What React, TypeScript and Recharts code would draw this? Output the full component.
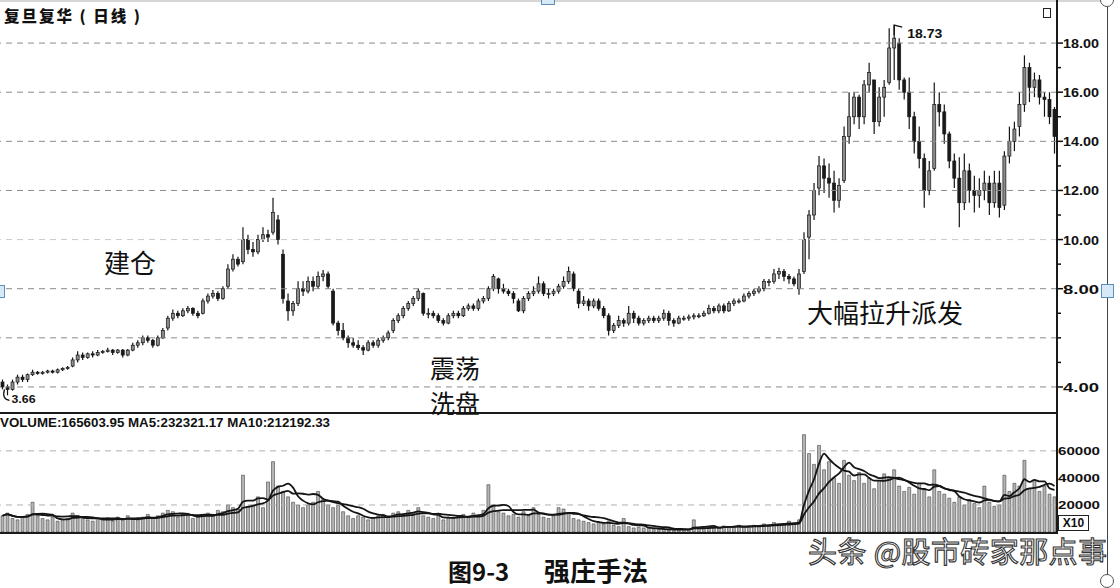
import React from 'react';
import { ComposedChart, Bar, Line, XAxis, YAxis, ReferenceLine, ReferenceDot } from 'recharts';

// ---- daily candles ----
const openP = [
  4.2,4.0,3.9,4.2,4.4,4.3,4.5,4.6,4.55,4.6,
  4.65,4.6,4.7,4.75,4.85,5.1,5.3,5.2,5.35,5.3,
  5.4,5.45,5.5,5.4,5.5,5.3,5.5,5.7,5.8,6.0,
  5.9,5.7,6.0,6.4,6.8,7.0,6.9,7.1,7.2,7.0,
  7.0,7.5,7.7,7.8,7.6,8.1,8.8,9.2,9.1,10.0,
  9.6,9.5,10.0,10.2,10.3,10.8,9.4,7.5,7.1,7.4,
  8.0,7.9,8.3,8.1,8.5,8.6,7.9,6.6,6.3,6.0,
  5.8,5.7,5.6,5.5,5.8,5.7,5.9,6.0,6.3,6.7,
  6.9,7.2,7.4,7.6,7.8,7.0,7.0,6.9,6.7,6.6,
  6.9,7.0,6.9,7.2,7.3,7.2,7.5,7.6,8.0,8.4,
  8.0,7.9,7.8,7.5,7.1,7.6,7.8,7.9,8.2,7.8,
  7.8,7.9,8.1,8.3,8.6,7.9,7.4,7.5,7.3,7.5,
  7.2,6.9,6.3,6.5,6.7,6.6,7.0,6.8,6.6,6.7,
  6.8,6.7,6.8,7.0,6.7,6.6,6.8,6.8,6.85,6.9,
  6.9,7.0,7.2,7.1,7.3,7.1,7.4,7.5,7.5,7.7,
  7.8,7.9,8.0,8.3,8.3,8.6,8.7,8.5,8.4,8.0,
  8.7,10.1,11.0,12.1,13.0,12.5,12.3,11.6,12.4,14.2,
  15.0,15.8,15.0,16.3,16.5,14.8,15.8,16.4,17.8,18.0,
  16.5,16.0,15.0,14.0,13.3,12.0,12.9,15.5,15.2,14.3,
  13.2,12.5,11.5,12.8,12.0,11.8,12.0,12.3,11.5,12.3,
  11.4,13.4,14.0,14.6,15.5,17.0,16.2,16.5,15.8,15.7,
  15.3,
];
const highP = [
  4.3,4.1,4.3,4.5,4.5,4.55,4.7,4.65,4.65,4.7,
  4.7,4.75,4.8,4.85,5.2,5.45,5.4,5.4,5.45,5.5,
  5.5,5.6,5.55,5.55,5.55,5.55,5.8,5.9,6.1,6.1,
  5.95,6.1,6.4,6.9,7.15,7.1,7.2,7.3,7.25,7.1,
  7.6,7.8,7.95,7.9,8.1,9.0,9.4,9.3,10.5,10.2,
  9.9,10.2,10.5,10.4,11.7,11.0,9.6,7.8,7.5,8.3,
  8.3,8.5,8.5,8.7,8.76,8.7,8.0,6.7,6.6,6.1,
  6.0,5.9,5.7,5.9,5.9,6.0,6.1,6.3,6.8,7.0,
  7.3,7.5,7.7,8.0,7.85,7.2,7.1,7.0,6.8,7.0,
  7.1,7.1,7.3,7.4,7.4,7.6,7.7,8.1,8.6,8.45,
  8.2,8.0,7.9,7.6,7.7,7.9,8.1,8.5,8.3,8.0,
  8.0,8.2,8.5,8.9,8.7,8.0,7.7,7.6,7.6,7.6,
  7.3,7.0,6.6,6.9,6.8,7.3,7.1,6.9,6.8,6.9,
  6.9,6.9,7.15,7.1,6.8,6.9,6.9,6.95,7.0,7.0,
  7.1,7.35,7.3,7.4,7.4,7.5,7.6,7.6,7.8,7.9,
  8.0,8.1,8.4,8.4,8.8,8.85,8.8,8.6,8.5,8.8,
  10.3,11.2,12.3,13.4,13.3,13.1,12.8,12.5,14.6,16.0,
  16.0,15.9,16.5,17.2,16.5,16.2,16.5,18.6,18.73,18.2,
  16.6,16.6,15.2,14.6,13.5,13.2,16.4,16.0,15.5,14.4,
  13.5,13.35,13.5,13.1,12.6,12.5,12.8,12.6,12.8,12.8,
  13.6,14.6,14.8,16.0,17.5,17.2,16.8,16.7,16.0,16.0,
  15.4,
];
const lowP = [
  3.9,3.66,3.85,4.1,4.2,4.2,4.45,4.5,4.5,4.55,
  4.55,4.55,4.65,4.7,4.8,5.0,5.1,5.15,5.2,5.25,
  5.35,5.4,5.3,5.35,5.2,5.25,5.45,5.6,5.7,5.8,
  5.6,5.65,5.95,6.3,6.7,6.8,6.85,7.0,6.9,6.8,
  6.95,7.4,7.6,7.5,7.55,8.0,8.7,8.9,9.0,9.4,
  9.3,9.4,9.9,9.9,10.2,9.8,7.4,6.7,6.9,7.3,
  7.7,7.8,7.9,8.0,8.3,8.0,6.5,6.1,5.9,5.6,
  5.6,5.5,5.3,5.45,5.6,5.6,5.8,5.9,6.2,6.6,
  6.8,7.1,7.3,7.5,6.9,6.8,6.8,6.6,6.5,6.55,
  6.8,6.8,6.85,7.1,7.1,7.1,7.4,7.5,7.9,7.8,
  7.8,7.7,7.4,7.05,7.0,7.5,7.7,7.8,7.7,7.6,
  7.7,7.8,8.0,8.2,7.9,7.2,7.3,7.1,7.2,7.1,
  6.8,6.1,6.2,6.4,6.45,6.5,6.6,6.5,6.5,6.6,
  6.6,6.6,6.7,6.5,6.45,6.55,6.7,6.7,6.75,6.8,
  6.85,6.95,7.0,7.0,7.0,7.05,7.3,7.4,7.45,7.6,
  7.7,7.8,7.9,8.1,8.2,8.4,8.3,8.2,8.1,7.75,
  8.6,9.2,10.8,11.8,11.9,11.7,11.1,11.3,12.3,13.9,
  14.7,14.5,14.7,16.0,14.3,14.6,15.0,16.3,16.5,16.1,
  15.7,14.5,13.5,12.9,11.3,11.8,12.8,14.6,13.9,12.9,
  12.1,10.5,11.2,11.5,11.1,11.3,11.6,11.0,11.3,10.9,
  11.2,13.1,13.6,14.2,15.2,15.6,15.8,15.5,15.0,14.7,
  13.5,
];
const closeP = [
  4.0,3.9,4.2,4.4,4.3,4.5,4.6,4.55,4.6,4.65,
  4.6,4.7,4.75,4.8,5.1,5.3,5.2,5.35,5.3,5.4,
  5.45,5.5,5.4,5.5,5.3,5.5,5.7,5.8,6.0,5.9,
  5.7,6.0,6.3,6.8,7.0,6.9,7.1,7.2,7.0,6.9,
  7.5,7.7,7.8,7.6,8.0,8.8,9.2,9.0,10.0,9.6,
  9.5,10.0,10.2,10.1,11.1,10.0,7.6,7.1,7.4,8.0,
  7.9,8.3,8.1,8.5,8.6,8.1,6.6,6.3,6.0,5.8,
  5.7,5.6,5.5,5.8,5.7,5.9,6.0,6.2,6.7,6.9,
  7.2,7.4,7.6,7.9,7.0,7.0,6.9,6.7,6.6,6.9,
  7.0,6.9,7.2,7.3,7.2,7.5,7.6,8.0,8.5,8.0,
  7.9,7.8,7.6,7.1,7.6,7.8,7.9,8.2,7.8,7.8,
  7.9,8.1,8.3,8.7,8.0,7.4,7.5,7.3,7.5,7.2,
  6.9,6.3,6.5,6.7,6.6,7.0,6.8,6.6,6.7,6.8,
  6.7,6.8,7.0,6.7,6.6,6.8,6.8,6.85,6.9,6.9,
  7.0,7.2,7.1,7.3,7.1,7.4,7.5,7.5,7.7,7.8,
  7.9,8.0,8.3,8.3,8.6,8.7,8.5,8.4,8.2,8.6,
  10.0,11.0,12.0,13.0,12.5,12.3,11.6,12.2,14.2,15.0,
  15.8,15.0,16.3,16.8,14.8,15.8,16.2,17.8,18.2,16.5,
  16.0,15.0,14.0,13.3,12.0,12.8,15.5,15.2,14.3,13.2,
  12.5,11.5,12.8,12.0,11.8,12.0,12.3,11.5,12.3,11.3,
  13.4,14.0,14.5,15.5,17.0,16.2,16.5,15.8,15.7,15.0,
  14.2,
];
const volume = [
  12000,14000,10000,9000,11000,13000,22000,12000,10000,9000,
  11000,8000,9000,10000,14000,12000,11000,9000,8000,10000,
  9000,10000,8000,11000,9000,12000,10000,9000,11000,13000,
  10000,12000,14000,16000,15000,11000,13000,12000,10000,11000,
  13000,14000,12000,16000,15000,20000,18000,17000,42000,19000,
  20000,26000,18000,37000,52000,34000,30000,26000,22000,20000,
  18000,20000,22000,30000,24000,20000,18000,20000,15000,12000,
  10000,12000,11000,9000,10000,12000,13000,11000,14000,15000,
  13000,16000,14000,18000,12000,11000,10000,12000,9000,11000,
  10000,12000,13000,11000,14000,12000,16000,35000,20000,15000,
  14000,12000,13000,11000,15000,12000,18000,13000,11000,10000,
  12000,18000,17000,14000,10000,9000,8000,7000,6000,7000,
  6000,8000,5000,4000,10000,4000,3000,3500,3000,2500,
  2000,2000,1800,1500,2000,1500,1800,2000,9000,3000,
  3000,3500,4000,3000,4500,4000,3500,5000,4000,4500,
  5000,4500,6000,5000,7000,6000,5500,8000,6000,9000,
  72000,58000,50000,64000,46000,52000,40000,36000,53000,42000,
  38000,44000,36000,40000,32000,38000,43000,40000,46000,34000,
  30000,33000,28000,36000,32000,26000,46000,30000,28000,25000,
  22000,26000,20000,24000,21000,18000,34000,22000,19000,20000,
  42000,30000,36000,34000,53000,32000,38000,30000,34000,28000,
  26000,
];

const priceTicks = [4,5,6,7,8,9,10,11,12,13,14,15,16,17,18];
const priceLabels = [4,8,10,12,14,16,18];
const priceGrid = [4,6,8,10,12,14,16,18];
const volTicks = [20000,40000,60000];
const volGrid = [20000,60000];
const peakIndex = 178;
const peakValue = 18.73;
const lowIndex = 1;
const lowValue = 3.66;

// moving averages of the volume indicator (MA5 / MA10 as named in the header)
const movingAvg = (arr: number[], i: number, n: number) => {
  const s = Math.max(0, i - n + 1);
  let sum = 0;
  for (let k = s; k <= i; k++) sum += arr[k];
  return sum / (i - s + 1);
};

const rows = closeP.map((c, i) => ({
  i,
  o: openP[i],
  h: highP[i],
  l: lowP[i],
  c,
  v: volume[i],
  ma5: movingAvg(volume, i, 5),
  ma10: movingAvg(volume, i, 10),
}));

const Candle = (props: any) => {
  const { x, y, width, height, payload } = props;
  if (x == null || y == null) return null;
  const { o, h, l, c } = payload;
  const top = Math.min(y, y + height);
  const hh = Math.abs(height);
  const sc = (v: number) => top + ((h - v) / (h - l)) * hh;
  const cx = x + width / 2;
  const yo = sc(o);
  const yc = sc(c);
  const up = c >= o;
  return (
    <g>
      <line x1={cx} x2={cx} y1={top} y2={top + hh} stroke="#151515" strokeWidth={1.2} />
      <rect
        x={x}
        y={Math.min(yo, yc)}
        width={width}
        height={Math.max(1, Math.abs(yo - yc))}
        fill={up ? '#8c8c8c' : '#1a1a1a'}
        stroke="#151515"
        strokeWidth={0.7}
      />
    </g>
  );
};

const PriceTick = (props: any) => {
  const { x, y, payload } = props;
  const v = payload.value;
  const major = priceLabels.includes(v);
  return (
    <g>
      <line x1={x} x2={x + (major ? 6 : 4)} y1={y} y2={y} stroke="#111" strokeWidth={1.5} />
      {major && (
        <text
          x={x + 6}
          y={y + 5}
          fontSize={12}
          fontWeight="bold"
          fill="#111"
          fontFamily='"Liberation Sans", Arial, sans-serif'
          textLength={36}
          lengthAdjust="spacingAndGlyphs"
        >
          {v.toFixed(2)}
        </text>
      )}
    </g>
  );
};

const VolTick = (props: any) => {
  const { x, y, payload } = props;
  return (
    <text
      x={x + 1}
      y={y + 4}
      fontSize={11}
      fontWeight="bold"
      fill="#111"
      fontFamily='"Liberation Sans", Arial, sans-serif'
      textLength={42}
      lengthAdjust="spacingAndGlyphs"
    >
      {String(payload.value)}
    </text>
  );
};

const PeakLabel = (p: any) => {
  const { cx, cy } = p;
  if (cx == null || cy == null) return null;
  return (
    <g>
      <path d={`M${cx},${cy + 10} L${cx},${cy} L${cx + 8},${cy + 2}`} stroke="#111" strokeWidth={1.3} fill="none" />
      <text x={cx + 13} y={cy + 13} fontSize={12} fontWeight="bold" fill="#111"
        fontFamily='"Liberation Sans", Arial, sans-serif' textLength={35} lengthAdjust="spacingAndGlyphs">
        {peakValue.toFixed(2)}
      </text>
    </g>
  );
};

const LowLabel = (p: any) => {
  const { cx, cy } = p;
  if (cx == null || cy == null) return null;
  return (
    <g>
      <path d={`M${cx - 3},${cy - 6} Q${cx - 6},${cy + 4} ${cx + 2},${cy + 5}`} stroke="#111" strokeWidth={1.3} fill="none" />
      <text x={cx + 4} y={cy + 8} fontSize={11} fontWeight="bold" fill="#111"
        fontFamily='"Liberation Sans", Arial, sans-serif' textLength={24} lengthAdjust="spacingAndGlyphs">
        {lowValue.toFixed(2)}
      </text>
    </g>
  );
};

const cjk = '"Noto Sans CJK SC", "Noto Sans CJK JP", sans-serif';

const abs = (s: React.CSSProperties): React.CSSProperties => ({ position: 'absolute', ...s });

export default function App() {
  return (
    <div style={abs({ left: 0, top: 0, width: 1120, height: 588, background: '#fff', overflow: 'hidden' })}>
      <div style={abs({ left: 0, top: 0, width: 1107, height: 2, background: '#d6d6d6' })} />

      {/* price panel */}
      <div style={abs({ left: 0, top: 5 })}>
        <ComposedChart width={1110} height={408} data={rows} margin={{ top: 0, right: 0, bottom: 0, left: 0 }}>
          <XAxis dataKey="i" type="category" hide />
          <YAxis
            orientation="right"
            type="number"
            width={53}
            domain={[2.94, 19.55]}
            allowDataOverflow
            ticks={priceTicks}
            interval={0}
            tick={<PriceTick />}
            tickLine={false}
            axisLine={false}
            tickSize={0}
            tickMargin={0}
          />
          {priceGrid.map((g) => (
            <ReferenceLine key={g} y={g} stroke={g === 10 ? '#c8c8c8' : '#8a8a8a'} strokeDasharray="6 5" strokeWidth={1} />
          ))}
          <Bar dataKey={(d: any) => [d.l, d.h]} shape={<Candle />} barSize={3} isAnimationActive={false} />
          <ReferenceDot x={peakIndex} y={peakValue} r={2} shape={PeakLabel} />
          <ReferenceDot x={lowIndex} y={lowValue} r={2} shape={LowLabel} />
        </ComposedChart>
      </div>

      {/* volume panel */}
      <div style={abs({ left: 0, top: 413 })}>
        <ComposedChart width={1110} height={119} data={rows} margin={{ top: 0, right: 0, bottom: 0, left: 0 }}>
          <XAxis dataKey="i" type="category" hide />
          <YAxis
            orientation="right"
            type="number"
            width={53}
            domain={[0, 88000]}
            allowDataOverflow
            ticks={volTicks}
            interval={0}
            tick={<VolTick />}
            tickLine={false}
            axisLine={false}
            tickSize={0}
            tickMargin={0}
          />
          {volGrid.map((g) => (
            <ReferenceLine key={g} y={g} stroke="#b0b0b0" strokeDasharray="6 5" strokeWidth={1} />
          ))}
          <Bar dataKey="v" barSize={3} fill="#b4b4b4" stroke="#2a2a2a" strokeWidth={0.5} isAnimationActive={false} />
          <Line dataKey="ma10" type="monotone" stroke="#151515" strokeWidth={1.8} dot={false} isAnimationActive={false} />
          <Line dataKey="ma5" type="monotone" stroke="#151515" strokeWidth={1.8} dot={false} isAnimationActive={false} />
        </ComposedChart>
      </div>

      {/* frame lines */}
      <div style={abs({ left: 1056, top: 0, width: 2, height: 534, background: '#1a1a1a' })} />
      <div style={abs({ left: 0, top: 412, width: 1058, height: 2, background: '#1a1a1a' })} />
      <div style={abs({ left: 0, top: 532, width: 1058, height: 2, background: '#1a1a1a' })} />
      <div style={abs({ left: 1107, top: 0, width: 1, height: 588, background: '#444' })} />

      {/* headers */}
      <div style={abs({ left: 4, top: 5, fontFamily: cjk, fontSize: 15.5, fontWeight: 900, letterSpacing: 2, lineHeight: '20px', color: '#111', whiteSpace: 'nowrap' })}>
        复旦复华 ( 日线 )
      </div>
      <div style={abs({ left: 1043, top: 8, width: 6, height: 8, border: '1.5px solid #222' })} />
      <svg style={abs({ left: 0, top: 414 })} width={400} height={18}>
        <text x={0} y={13} fontSize={12} fontWeight="bold" fill="#111"
          fontFamily='"Liberation Sans", Arial, sans-serif' textLength={330} lengthAdjust="spacingAndGlyphs">
          VOLUME:165603.95 MA5:232321.17 MA10:212192.33
        </text>
      </svg>
      <div style={abs({ left: 1058, top: 515, width: 31, height: 16, border: '1px solid #222', boxSizing: 'border-box', fontFamily: '"Liberation Sans", Arial', fontSize: 12, fontWeight: 700, lineHeight: '15px', textAlign: 'center', color: '#111', background: '#fff' })}>
        X10
      </div>

      {/* annotations */}
      <div style={abs({ left: 104, top: 247, fontFamily: cjk, fontSize: 26, lineHeight: '30px', color: '#111', whiteSpace: 'nowrap' })}>建仓</div>
      <div style={abs({ left: 430, top: 352, fontFamily: cjk, fontSize: 25, lineHeight: '30px', color: '#111', whiteSpace: 'nowrap' })}>震荡</div>
      <div style={abs({ left: 430, top: 387, fontFamily: cjk, fontSize: 25, lineHeight: '30px', color: '#111', whiteSpace: 'nowrap' })}>洗盘</div>
      <div style={abs({ left: 807, top: 297, fontFamily: cjk, fontSize: 26, lineHeight: '30px', color: '#111', whiteSpace: 'nowrap' })}>大幅拉升派发</div>

      {/* caption */}
      <div style={abs({ left: 448, top: 557, fontFamily: cjk, fontSize: 24, fontWeight: 700, lineHeight: '28px', color: '#111', whiteSpace: 'nowrap' })}>图9-3</div>
      <div style={abs({ left: 544, top: 556, fontFamily: cjk, fontSize: 26, fontWeight: 700, lineHeight: '28px', color: '#111', whiteSpace: 'nowrap' })}>强庄手法</div>
      <div style={abs({ left: 808, top: 533, fontFamily: cjk, fontSize: 29, letterSpacing: 0.4, lineHeight: '34px', color: '#fff', WebkitTextStroke: '1.1px #333', whiteSpace: 'nowrap' } as React.CSSProperties)}>
        头条 @股市砖家那点事
      </div>

      {/* selection handles of the screenshot */}
      <div style={abs({ left: -6, top: 285, width: 11, height: 13, border: '1px solid #5a8fc0', background: '#d7e8f7', boxSizing: 'border-box' })} />
      <div style={abs({ left: 1101, top: 284, width: 13, height: 14, border: '1px solid #5a8fc0', background: '#d7e8f7', boxSizing: 'border-box' })} />
      <div style={abs({ left: 541, top: -8, width: 14, height: 13, border: '1px solid #5a8fc0', background: '#d7e8f7', boxSizing: 'border-box' })} />
      <div style={abs({ left: 1100, top: -7, width: 14, height: 14, borderRadius: 7, border: '1px solid #555', background: '#fff', boxSizing: 'border-box' })} />
      <div style={abs({ left: 1100, top: 574, width: 14, height: 14, borderRadius: 7, border: '1px solid #555', background: '#fff', boxSizing: 'border-box' })} />
    </div>
  );
}
